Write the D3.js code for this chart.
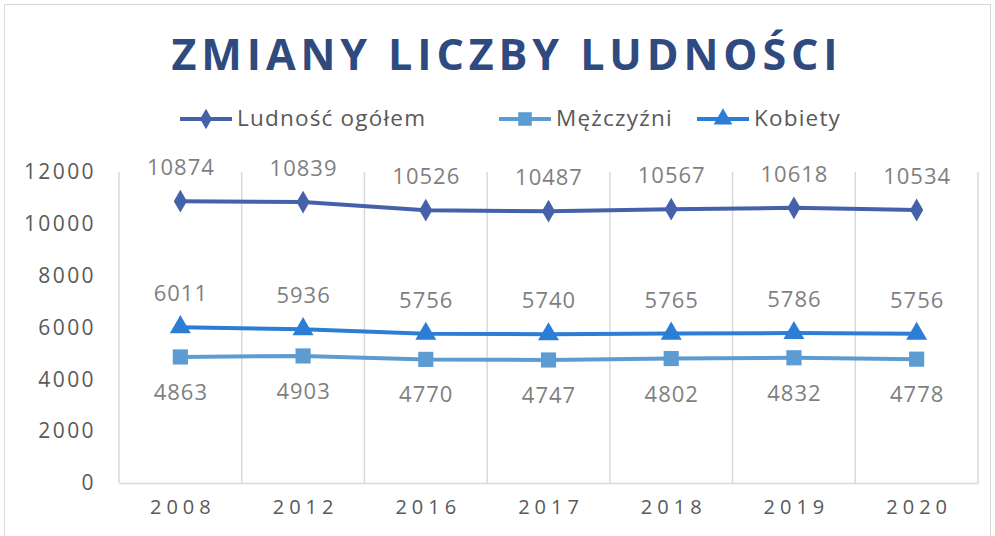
<!DOCTYPE html>
<html>
<head>
<meta charset="utf-8">
<script src="https://cdn.jsdelivr.net/npm/d3@7"></script>
<style>
  body { margin: 0; background: #fff; }
  svg { display: block; font-family: "Open Sans", "Noto Sans", sans-serif; }
</style>
</head>
<body>
<div id="chart-area"></div>
<script>
// chart size
var width = 995,
	height = 536;

// data
var years = ["2008", "2012", "2016", "2017", "2018", "2019", "2020"];
var ogolem = [10874, 10839, 10526, 10487, 10567, 10618, 10534];
var mezczyzni = [4863, 4903, 4770, 4747, 4802, 4832, 4778];
var kobiety = [6011, 5936, 5756, 5740, 5765, 5786, 5756];
var yTicks = [0, 2000, 4000, 6000, 8000, 10000, 12000];

var series = [
	{ name: "Ludność ogółem", values: ogolem, color: "#4561A9", symbol: d3.symbolDiamond, size: 150, labelPos: "above" },
	{ name: "Mężczyźni", values: mezczyzni, color: "#5D9CD3", symbol: d3.symbolSquare, size: 230, labelPos: "below" },
	{ name: "Kobiety", values: kobiety, color: "#2C7DD6", symbol: d3.symbolTriangle, size: 190, labelPos: "above" }
];

var margin = { left: 119, right: 17, top: 172, bottom: 53 };

var svg = d3.select("#chart-area")
	.append("svg")
	.attr("width", width)
	.attr("height", height);

// chart frame
svg.append("rect")
	.attr("x", 4.5).attr("y", 4.5)
	.attr("width", width - 9).attr("height", height)
	.attr("fill", "#fff")
	.attr("stroke", "#d9d9d9");

// title
svg.append("text")
	.attr("x", 507).attr("y", 70)
	.attr("text-anchor", "middle")
	.attr("font-size", 43)
	.attr("font-weight", 700)
	.attr("letter-spacing", 4.9)
	.attr("fill", "#2F4A7E")
	.text("ZMIANY LICZBY LUDNOŚCI");

// scales
var x = d3.scaleBand()
	.domain(years)
	.range([margin.left, width - margin.right]);

var y = d3.scaleLinear()
	.domain([0, 12000])
	.range([height - margin.bottom, margin.top]);

// vertical gridlines at category boundaries
var bounds = years.map(function(d) { return x(d); }).concat([x.range()[1]]);
svg.selectAll(".vgrid")
	.data(bounds)
	.enter()
	.append("line")
	.attr("class", "vgrid")
	.attr("x1", function(d) { return d; })
	.attr("x2", function(d) { return d; })
	.attr("y1", y(12000))
	.attr("y2", y(0))
	.attr("stroke", "#d9d9d9")
	.attr("stroke-width", 1.5);

// x axis
var xAxis = d3.axisBottom(x).tickSize(0).tickPadding(17);
var gx = svg.append("g")
	.attr("transform", "translate(0," + y(0) + ")")
	.call(xAxis);
gx.select(".domain").attr("stroke", "#d9d9d9").attr("stroke-width", 1.5);
gx.selectAll("text")
	.attr("font-size", 20)
	.attr("letter-spacing", 5)
	.attr("dx", 2.5)
	.attr("fill", "#595959")
	.attr("font-family", "'Open Sans', sans-serif");

// y axis
var yAxis = d3.axisLeft(y).tickValues(yTicks).tickFormat(d3.format("d")).tickSize(0).tickPadding(23);
var gy = svg.append("g")
	.attr("transform", "translate(" + margin.left + ",0)")
	.call(yAxis);
gy.select(".domain").remove();
gy.selectAll("text")
	.attr("font-size", 21)
	.attr("letter-spacing", 2.4)
	.attr("fill", "#595959")
	.attr("font-family", "'Open Sans', sans-serif");

// lines, markers and labels
var line = d3.line()
	.x(function(d, i) { return x(years[i]) + x.bandwidth() / 2; })
	.y(function(d) { return y(d); });

series.forEach(function(s) {
	svg.append("path")
		.datum(s.values)
		.attr("d", line)
		.attr("fill", "none")
		.attr("stroke", s.color)
		.attr("stroke-width", 4)
		.attr("stroke-linejoin", "round");

	svg.selectAll(null)
		.data(s.values)
		.enter()
		.append("path")
		.attr("d", d3.symbol().type(s.symbol).size(s.size))
		.attr("transform", function(d, i) {
			return "translate(" + (x(years[i]) + x.bandwidth() / 2) + "," + y(d) + ")";
		})
		.attr("fill", s.color);

	svg.selectAll(null)
		.data(s.values)
		.enter()
		.append("text")
		.attr("x", function(d, i) { return x(years[i]) + x.bandwidth() / 2 + 0.5; })
		.attr("y", function(d) { return s.labelPos === "above" ? y(d) - 26 : y(d) + 43; })
		.attr("text-anchor", "middle")
		.attr("font-size", 22)
		.attr("letter-spacing", 1)
		.attr("fill", "#7F7F7F")
		.text(function(d) { return d; });
});

// legend
var legendX = [180, 499, 697];
var legend = svg.selectAll(".legend")
	.data(series)
	.enter()
	.append("g")
	.attr("class", "legend")
	.attr("transform", function(d, i) { return "translate(" + legendX[i] + ",119)"; });

legend.append("line")
	.attr("x1", 0).attr("x2", 52)
	.attr("stroke", function(d) { return d.color; })
	.attr("stroke-width", 4);

legend.append("path")
	.attr("d", function(d) { return d3.symbol().type(d.symbol).size(d.size * 0.8)(); })
	.attr("transform", "translate(26,0)")
	.attr("fill", function(d) { return d.color; });

legend.append("text")
	.attr("x", 57)
	.attr("y", 7)
	.attr("font-size", 22.5)
	.attr("letter-spacing", 1.2)
	.attr("fill", "#595959")
	.text(function(d) { return d.name; });
</script>
</body>
</html>
